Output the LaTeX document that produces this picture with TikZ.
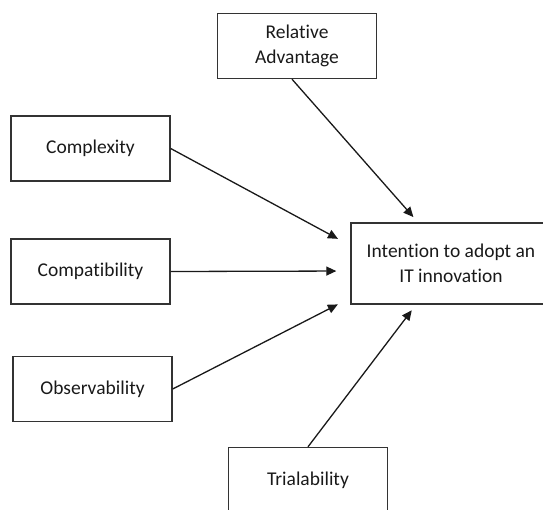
\documentclass[tikz,border=0pt]{standalone}
\usepackage{fontspec}
\setmainfont{Carlito}[Ligatures={NoCommon}]
\usetikzlibrary{arrows.meta, positioning}

\begin{document}
\begin{tikzpicture}[x=1pt, y=-1pt,
    factor/.style={rectangle, draw=black!80, line width=1.4pt, text=black!90, minimum width=159pt, minimum height=65pt, align=center, font=\fontsize{19.5}{24.5}\selectfont},
    outcome/.style={factor, minimum width=200pt, minimum height=81pt},
    link/.style={-{Triangle[length=10pt, width=9pt]}, line width=1.3pt, black!90}]

    \clip (0,0) rectangle (543,509);

    \node[factor] (reladv) at (297,46) {Relative\\Advantage};
    \node[factor] (cplx) at (90.5,148.5) {Complexity};
    \node[factor] (compat) at (90.5,271.5) {Compatibility};
    \node[factor] (observ) at (92.5,389) {Observability};
    \node[outcome] (intent) at (451,263.5) {Intention to adopt an\\IT innovation};
    \node[factor] (trial) at (308,480) {Trialability};

    \draw[link, shorten >=7pt] ([xshift=-5pt]reladv.south) -- ([xshift=-33pt]intent.north);
    \draw[link, shorten >=14pt] (cplx.east) -- ([yshift=18pt]intent.west);
    \draw[link, shorten >=14pt] (compat.east) -- ([yshift=-7.5pt]intent.west);
    \draw[link, shorten >=14pt] (observ.east) -- ([yshift=-34.5pt]intent.west);
    \draw[link, shorten >=7pt] (trial.north) -- ([xshift=-35pt]intent.south);
\end{tikzpicture}
\end{document}
